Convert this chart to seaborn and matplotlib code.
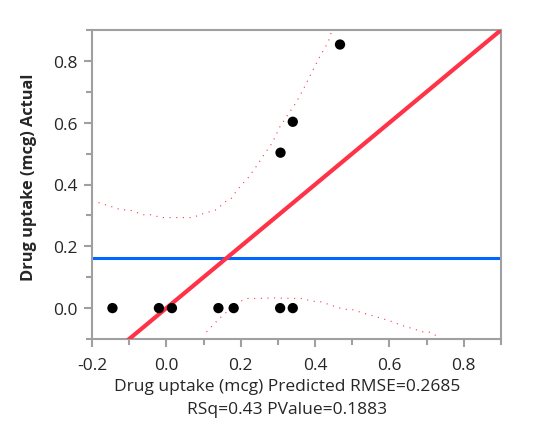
import numpy as np
import pandas as pd
import matplotlib
matplotlib.use("Agg")
import matplotlib.pyplot as plt
import seaborn as sns
from matplotlib.ticker import MultipleLocator

# ========================
# DATA
# ========================
pred = [-0.145, -0.020, 0.015, 0.140, 0.181, 0.306, 0.340, 0.307, 0.340, 0.467]
actual = [0.0, 0.0, 0.0, 0.0, 0.0, 0.0, 0.0, 0.503, 0.603, 0.853]

mean_actual = 0.163
fit_x = [-0.2, 0.9]
fit_y = [-0.2, 0.9]

upper_x = [-0.20, -0.189, -0.147, -0.121, -0.100, -0.061, -0.040, -0.014, 0.007,
           0.029, 0.051, 0.072, 0.089, 0.134, 0.158, 0.174, 0.183, 0.200, 0.220,
           0.241, 0.264, 0.285, 0.305, 0.328, 0.348, 0.370, 0.392, 0.413, 0.435,
           0.441, 0.446]
upper_y = [0.344, 0.344, 0.328, 0.318, 0.318, 0.302, 0.302, 0.293, 0.293,
           0.293, 0.293, 0.293, 0.302, 0.318, 0.344, 0.354, 0.370, 0.396, 0.422,
           0.457, 0.499, 0.535, 0.586, 0.628, 0.663, 0.712, 0.765, 0.815, 0.860,
           0.884, 0.900]

lower_x = [0.108, 0.130, 0.151, 0.175, 0.199, 0.217, 0.239, 0.290, 0.347, 0.368,
           0.390, 0.411, 0.454, 0.477, 0.498, 0.540, 0.562, 0.605, 0.626, 0.669,
           0.693, 0.709, 0.734]
lower_y = [-0.077, -0.049, -0.024, 0.000, 0.022, 0.031, 0.031, 0.033, 0.031, 0.031,
           0.022, 0.022, 0.005, -0.004, -0.004, -0.020, -0.027, -0.043, -0.053, -0.069,
           -0.078, -0.078, -0.095]

xlabel_text = "Drug uptake (mcg) Predicted RMSE=0.2685\nRSq=0.43 PValue=0.1883"
ylabel_text = "Drug uptake (mcg) Actual"

RED = "#FF3347"
BLUE = "#0066FF"
GRAY = "#A0A0A0"

# ========================
# PLOT
# ========================
sns.set_style("white")
plt.rcParams["font.family"] = ["Open Sans", "DejaVu Sans"]

fig = plt.figure(figsize=(5.36, 4.39), dpi=100)
ax = fig.add_axes([92 / 536, 1 - 340 / 439, 409 / 536, 309 / 439])

ax.axhline(mean_actual, color=BLUE, linewidth=2.2, zorder=2)
sns.lineplot(x=fit_x, y=fit_y, color=RED, linewidth=3, ax=ax, zorder=3,
             estimator=None, sort=False)
sns.lineplot(x=upper_x, y=upper_y, color=RED, linewidth=0.8, linestyle=(0, (1, 5)),
             ax=ax, estimator=None, sort=False, zorder=2)
sns.lineplot(x=lower_x, y=lower_y, color=RED, linewidth=0.8, linestyle=(0, (1, 5)),
             ax=ax, estimator=None, sort=False, zorder=2)
sns.scatterplot(x=pred, y=actual, color="black", s=55, edgecolor="none", ax=ax, zorder=4)

ax.set_xlim(-0.2, 0.9)
ax.set_ylim(-0.1, 0.9)
ax.xaxis.set_major_locator(MultipleLocator(0.2))
ax.xaxis.set_minor_locator(MultipleLocator(0.1))
ax.yaxis.set_major_locator(MultipleLocator(0.2))
ax.yaxis.set_minor_locator(MultipleLocator(0.1))
ax.xaxis.set_major_formatter(lambda v, p: f"{v:.1f}".replace("-0.0", "0.0"))
ax.yaxis.set_major_formatter(lambda v, p: f"{v:.1f}".replace("-0.0", "0.0"))

for s in ax.spines.values():
    s.set_color(GRAY)
    s.set_linewidth(1.5)
ax.tick_params(which="both", direction="out", color=GRAY, width=1.5,
               left=True, bottom=True, labelsize=12.5)
ax.tick_params(which="major", length=6)
ax.tick_params(which="minor", length=4)
ax.tick_params(axis="x", pad=7)
ax.tick_params(axis="y", pad=4)

ax.set_xlabel(xlabel_text, fontsize=12.5, linespacing=1.6)
ax.xaxis.set_label_coords(0.478, -0.125, transform=ax.transAxes)
ax.xaxis.label.set_verticalalignment("top")
ax.set_ylabel(ylabel_text, fontsize=11.8, fontweight="bold")
ax.yaxis.set_label_coords(-0.135, 0.527, transform=ax.transAxes)

fig.savefig("out.png", dpi=100)
